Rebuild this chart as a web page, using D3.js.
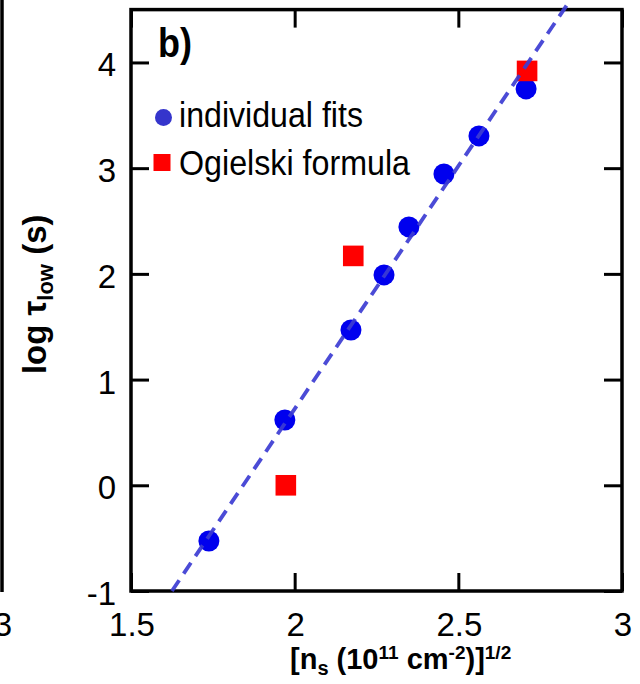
<!DOCTYPE html>
<html>
<head>
<meta charset="utf-8">
<script src="https://cdn.jsdelivr.net/npm/d3@7"></script>
<style>
  html, body { margin: 0; padding: 0; background: #fff; }
  svg { display: block; }
  text { font-family: "Liberation Sans", Arial, sans-serif; fill: #000; }
</style>
</head>
<body>
<svg id="chart" width="640" height="684"></svg>
<script>
// ---- data ----
const fitsX = [1.738, 1.970, 2.172, 2.273, 2.349, 2.456, 2.563, 2.707];
const fitsY = [-0.527, 0.618, 1.469, 1.990, 2.444, 2.945, 3.305, 3.750];
const ogX = [1.973, 2.179, 2.710];
const ogY = [0.000, 2.170, 3.920];
const lineX = [1.625, 2.844];
const lineY = [-1.0, 4.6];
const xTicks = [1.5, 2, 2.5, 3];
const xTickLabels = ["1.5", "2", "2.5", "3"];
const yTicks = [-1, 0, 1, 2, 3, 4];
const yTickLabels = ["-1", "0", "1", "2", "3", "4"];
const legendLabels = ["individual fits", "Ogielski formula"];

// ---- layout ----
const svg = d3.select("#chart");
const L = 131, R = 622, T = 9.6, B = 591;
const x = d3.scaleLinear().domain([1.5, 3]).range([L, R]);
const y = d3.scaleLinear().domain([-1, 4.5]).range([B, T]);
const tickLen = 18;

// partial neighbouring panel at the far left
svg.append("line").attr("x1", 2).attr("x2", 2).attr("y1", 0).attr("y2", 592)
  .attr("stroke", "#000").attr("stroke-width", 3.5);
svg.append("text").attr("x", 3).attr("y", 636).attr("text-anchor", "middle")
  .attr("font-size", 33).text("3");

// axes (inward ticks, mirrored)
const axB = d3.axisBottom(x).tickValues(xTicks).tickSize(-tickLen).tickFormat("");
const axT = d3.axisTop(x).tickValues(xTicks).tickSize(-tickLen).tickFormat("");
const axL = d3.axisLeft(y).tickValues(yTicks).tickSize(-tickLen).tickFormat("");
const axR = d3.axisRight(y).tickValues(yTicks).tickSize(-tickLen).tickFormat("");
function styleAxis(g) {
  g.select(".domain").remove();
  g.selectAll(".tick line").attr("stroke", "#000").attr("stroke-width", 3);
}
svg.append("g").attr("transform", `translate(0,${B})`).call(axB).call(styleAxis);
svg.append("g").attr("transform", `translate(0,${T})`).call(axT).call(styleAxis);
svg.append("g").attr("transform", `translate(${L},0)`).call(axL).call(styleAxis);
svg.append("g").attr("transform", `translate(${R},0)`).call(axR).call(styleAxis);

// frame
svg.append("rect").attr("x", L).attr("y", T).attr("width", R - L).attr("height", B - T)
  .attr("fill", "none").attr("stroke", "#000").attr("stroke-width", 3.5);

// tick labels
svg.append("g").selectAll("text").data(xTicks).join("text")
  .attr("x", d => x(d) + 1).attr("y", 636).attr("text-anchor", "middle")
  .attr("font-size", 33).text((d, i) => xTickLabels[i]);
svg.append("g").selectAll("text").data(yTicks).join("text")
  .attr("x", 116).attr("y", d => y(d) + 14).attr("text-anchor", "end")
  .attr("font-size", 33).text((d, i) => yTickLabels[i]);

// axis titles
const xt = svg.append("text").attr("x", 290).attr("y", 669)
  .attr("font-size", 29).attr("font-weight", "bold");
xt.append("tspan").text("[n");
xt.append("tspan").attr("font-size", 20).attr("dy", 6).text("s");
xt.append("tspan").attr("dy", -6).text(" (10");
xt.append("tspan").attr("font-size", 19).attr("dy", -10).text("11");
xt.append("tspan").attr("dy", 10).text(" cm");
xt.append("tspan").attr("font-size", 19).attr("dy", -10).text("-2");
xt.append("tspan").attr("dy", 10).text(")]");
xt.append("tspan").attr("font-size", 19).attr("dy", -10).text("1/2");

const yt = svg.append("text")
  .attr("transform", `translate(46,${(T + B) / 2 - 6}) rotate(-90)`)
  .attr("text-anchor", "middle").attr("font-size", 33).attr("font-weight", "bold");
yt.append("tspan").text("log \u03C4");
yt.append("tspan").attr("font-size", 22).attr("dy", 7).text("low");
yt.append("tspan").attr("dy", -7).text(" (s)");

// panel label
svg.append("text").attr("x", 158).attr("y", 57).attr("font-size", 41)
  .attr("font-weight", "bold").attr("textLength", 34).attr("lengthAdjust", "spacingAndGlyphs")
  .text("b)");

// data: circles, squares
svg.append("g").selectAll("circle").data(fitsX).join("circle")
  .attr("cx", d => x(d)).attr("cy", (d, i) => y(fitsY[i])).attr("r", 10.5)
  .attr("fill", "#0000ee");
svg.append("g").selectAll("rect").data(ogX).join("rect")
  .attr("x", d => x(d) - 10.3).attr("y", (d, i) => y(ogY[i]) - 10.3)
  .attr("width", 20.6).attr("height", 20.6).attr("fill", "#ff0000");

// dashed fit line on top
svg.append("path")
  .datum(lineX.map((d, i) => [d, lineY[i]]))
  .attr("d", d3.line().x(d => x(d[0])).y(d => y(d[1])))
  .attr("fill", "none").attr("stroke", "#3c3cd2").attr("stroke-width", 3.8)
  .attr("stroke-dasharray", "13,8").attr("stroke-opacity", 0.92);

// legend
svg.append("circle").attr("cx", 163.5).attr("cy", 117.5).attr("r", 8.5).attr("fill", "#3535cc");
svg.append("text").attr("x", 179).attr("y", 127).attr("font-size", 35)
  .attr("textLength", 184).attr("lengthAdjust", "spacingAndGlyphs").text(legendLabels[0]);
svg.append("rect").attr("x", 153.5).attr("y", 154).attr("width", 17).attr("height", 17)
  .attr("fill", "#ff0000");
svg.append("text").attr("x", 179).attr("y", 175).attr("font-size", 35)
  .attr("textLength", 231).attr("lengthAdjust", "spacingAndGlyphs").text(legendLabels[1]);
</script>
</body>
</html>
